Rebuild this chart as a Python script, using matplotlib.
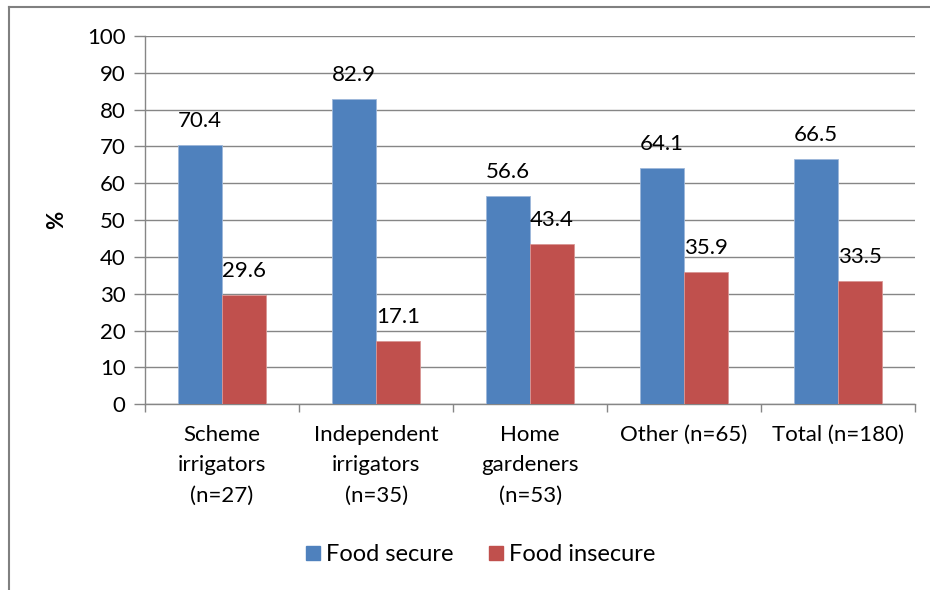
import numpy as np
import matplotlib.pyplot as plt
from matplotlib.lines import Line2D

plt.rcParams['font.family'] = ['Lato', 'DejaVu Sans']

categories = ['Scheme\nirrigators\n(n=27)', 'Independent\nirrigators\n(n=35)',
              'Home\ngardeners\n(n=53)', 'Other (n=65)', 'Total (n=180)']
secure = [70.4, 82.9, 56.6, 64.1, 66.5]
insecure = [29.6, 17.1, 43.4, 35.9, 33.5]

blue = '#4F81BD'
red = '#C0504D'
grid = '#868686'
fs = 16

fig = plt.figure(figsize=(9.3, 5.9), dpi=100)
ax = fig.add_axes([0.156, 0.315, 0.828, 0.624])

x = np.arange(len(categories))
w = 0.285
b1 = ax.bar(x - w / 2, secure, w, color=blue, edgecolor='#9DB7DA', linewidth=0.6,
            label='Food secure', zorder=3)
b2 = ax.bar(x + w / 2, insecure, w, color=red, edgecolor='#D99694', linewidth=0.6,
            label='Food insecure', zorder=3)

for bars, vals in ((b1, secure), (b2, insecure)):
    for bar, v in zip(bars, vals):
        ax.annotate(f'{v:.1f}', (bar.get_x() + bar.get_width() / 2, v),
                    xytext=(0, 13), textcoords='offset points',
                    ha='center', va='baseline', fontsize=fs, zorder=4)

ax.set_xlim(-0.5, len(categories) - 0.5)
ax.set_ylim(0, 100)
ax.set_yticks(range(0, 101, 10))
ax.yaxis.grid(True, color=grid, linewidth=1)
ax.set_axisbelow(True)

ax.set_xticks(x)
ax.set_xticklabels(categories, fontsize=fs, linespacing=1.65)
ax.tick_params(axis='x', length=0, pad=15)
ax.set_xticks(np.arange(-0.5, len(categories)), minor=True)
ax.tick_params(axis='x', which='minor', length=6, color=grid, width=1)
ax.tick_params(axis='y', length=8, color=grid, width=1, labelsize=fs, pad=6)

for s in ['top', 'right']:
    ax.spines[s].set_visible(False)
for s in ['left', 'bottom']:
    ax.spines[s].set_color(grid)
    ax.spines[s].set_linewidth(1)

ax.set_ylabel('%', fontsize=fs, fontweight='bold', labelpad=14)

handles = [Line2D([], [], marker='s', linestyle='', markersize=10, color=blue),
           Line2D([], [], marker='s', linestyle='', markersize=10, color=red)]
fig.legend(handles, ['Food secure', 'Food insecure'], loc='center',
           bbox_to_anchor=(0.516, 0.06), ncol=2, frameon=False, fontsize=17,
           handletextpad=0.15, columnspacing=1.4, handlelength=0.8)

# outer chart frame
fig.add_artist(Line2D([0.0097, 0.0097], [0, 0.988], color='#808080', linewidth=1.5))
fig.add_artist(Line2D([0.0097, 1], [0.988, 0.988], color='#808080', linewidth=1.5))

fig.savefig('out.png', dpi=100)
